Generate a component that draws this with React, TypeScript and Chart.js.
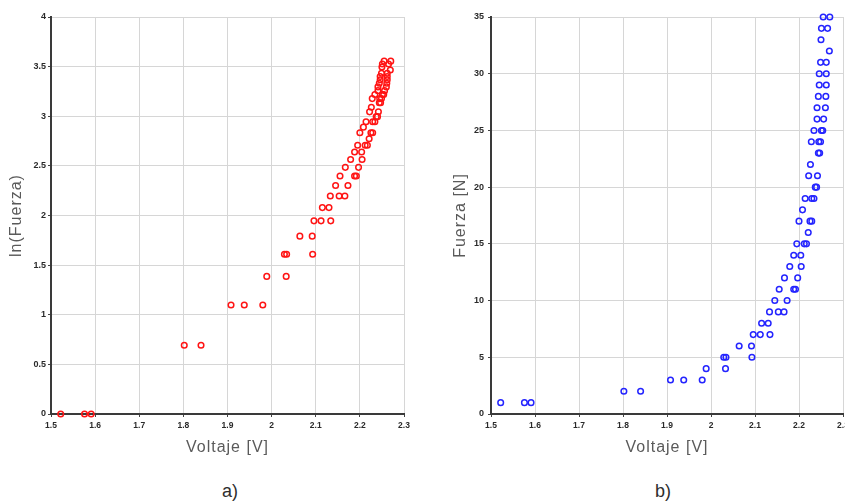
import { useEffect, useRef } from "react";
import { Chart, registerables } from "chart.js";

Chart.register(...registerables);

// Measured pairs: supply voltage [V] and resulting force [N]
const voltage = [
  1.522, 1.576, 1.591,
  1.802, 1.840,
  1.908, 1.938, 1.980,
  1.989, 2.033,
  2.029, 2.034, 2.093,
  2.064, 2.092,
  2.096, 2.112, 2.134,
  2.115, 2.130,
  2.133, 2.153, 2.166,
  2.145, 2.173,
  2.155, 2.188, 2.192,
  2.167, 2.197,
  2.179, 2.205,
  2.188, 2.204,
  2.195, 2.212, 2.217,
  2.221,
  2.200, 2.225, 2.229,
  2.208,
  2.214, 2.229, 2.234,
  2.237, 2.240,
  2.222, 2.242,
  2.226,
  2.244, 2.247,
  2.228, 2.245, 2.249,
  2.234, 2.251, 2.254,
  2.241, 2.256,
  2.241, 2.260,
  2.244, 2.261,
  2.246, 2.262,
  2.246, 2.262,
  2.249, 2.262,
  2.269,
  2.250,
  2.251, 2.265,
  2.255, 2.270,
];

const force = [
  1, 1, 1,
  2, 2,
  3, 3, 3,
  4, 4,
  5, 5, 5,
  6, 6,
  7, 7, 7,
  8, 8,
  9, 9, 9,
  10, 10,
  11, 11, 11,
  12, 12,
  13, 13,
  14, 14,
  15, 15, 15,
  16,
  17, 17, 17,
  18,
  19, 19, 19,
  20, 20,
  21, 21,
  22,
  23, 23,
  24, 24, 24,
  25, 25, 25,
  26, 26,
  27, 27,
  28, 28,
  29, 29,
  30, 30,
  31, 31,
  32,
  33,
  34, 34,
  35, 35,
];

// Natural log of each force reading, plotted in panel a)
const lnForce = force.map((f) => Math.log(f));

const voltageTicks = [1.5, 1.6, 1.7, 1.8, 1.9, 2.0, 2.1, 2.2, 2.3];
const voltageTickLabels = ["1.5", "1.6", "1.7", "1.8", "1.9", "2", "2.1", "2.2", "2.3"];
const lnForceTicks = [0, 0.5, 1, 1.5, 2, 2.5, 3, 3.5, 4];
const lnForceTickLabels = ["0", "0.5", "1", "1.5", "2", "2.5", "3", "3.5", "4"];
const forceTicks = [0, 5, 10, 15, 20, 25, 30, 35];
const forceTickLabels = ["0", "5", "10", "15", "20", "25", "30", "35"];

const FONT = "'Liberation Sans', Arial, sans-serif";

// Titles get a little extra tracking; tick labels (drawn after the datasets) do not.
const trackedTitles = {
  id: "trackedTitles",
  beforeDraw(chart: any) {
    chart.ctx.letterSpacing = "1px";
  },
  beforeDatasetsDraw(chart: any) {
    chart.ctx.letterSpacing = "0px";
  },
};

interface PanelSpec {
  ys: number[];
  yTicks: number[];
  yTickLabels: string[];
  yTitle: string;
  yMax: number;
  color: string;
  yAxisWidth: number;
  yTitlePad: number;
  yTickPad: number;
  padRight: number;
}

function makeChart(canvas: HTMLCanvasElement, spec: PanelSpec) {
  const points = voltage.map((v, i) => ({ x: v, y: spec.ys[i] }));
  const grid = {
    color: "#d6d6d6",
    lineWidth: 1,
    drawTicks: true,
    tickLength: 3,
    tickColor: "#444",
    tickWidth: 1,
  };
  const border = { display: true, color: "#3a3a3a", width: 2 };

  return new Chart(canvas, {
    type: "scatter",
    data: {
      datasets: [
        {
          data: points,
          pointStyle: "circle",
          pointRadius: 2.8,
          pointBorderWidth: 1.5,
          pointBorderColor: spec.color,
          pointBackgroundColor: "rgba(0,0,0,0)",
          pointHoverRadius: 2.8,
          clip: false as any,
        },
      ],
    },
    options: {
      animation: false,
      responsive: false,
      maintainAspectRatio: false,
      devicePixelRatio: 1,
      events: [],
      layout: { padding: { top: 17, right: spec.padRight, bottom: 0, left: 0 } },
      plugins: {
        legend: { display: false },
        tooltip: { enabled: false },
      },
      scales: {
        x: {
          type: "linear",
          min: 1.5,
          max: 2.3,
          grid,
          border,
          afterBuildTicks: (scale: any) => {
            scale.ticks = voltageTicks.map((v) => ({ value: v }));
          },
          afterFit: (scale: any) => {
            scale.height = 56;
          },
          ticks: {
            z: 1,
            autoSkip: false,
            maxRotation: 0,
            padding: 4,
            color: "#2a2a2a",
            font: { family: FONT, size: 8.5, weight: "bold" },
            callback: (_v: any, i: number) => voltageTickLabels[i],
          },
          title: {
            display: true,
            text: "Voltaje [V]",
            color: "#5a5a5a",
            font: { family: FONT, size: 16 },
            padding: { top: 0, bottom: 13 },
          },
        },
        y: {
          type: "linear",
          min: 0,
          max: spec.yMax,
          grid,
          border,
          afterBuildTicks: (scale: any) => {
            scale.ticks = spec.yTicks.map((v) => ({ value: v }));
          },
          afterFit: (scale: any) => {
            scale.width = spec.yAxisWidth;
          },
          ticks: {
            z: 1,
            autoSkip: false,
            padding: spec.yTickPad,
            color: "#2a2a2a",
            font: { family: FONT, size: 9, weight: "bold" },
            callback: (_v: any, i: number) => spec.yTickLabels[i],
          },
          title: {
            display: true,
            text: spec.yTitle,
            color: "#5a5a5a",
            font: { family: FONT, size: 16 },
            padding: { top: spec.yTitlePad, bottom: 0 },
          },
        },
      },
    },
    plugins: [trackedTitles],
  } as any);
}

function Panel(props: { spec: PanelSpec; left: number; width: number; caption: string; captionX: number }) {
  const ref = useRef<HTMLCanvasElement | null>(null);
  useEffect(() => {
    if (!ref.current) return;
    const chart = makeChart(ref.current, props.spec);
    return () => chart.destroy();
  }, []);
  return (
    <>
      <canvas
        ref={ref}
        width={props.width}
        height={470}
        style={{ position: "absolute", left: props.left, top: 0, width: props.width, height: 470 }}
      />
      <div
        style={{
          position: "absolute",
          left: props.captionX,
          top: 491,
          transform: "translate(-50%, -50%)",
          fontFamily: FONT,
          fontSize: 18,
          color: "#2e2e2e",
          lineHeight: 1,
        }}
      >
        {props.caption}
      </div>
    </>
  );
}

const panelA: PanelSpec = {
  ys: lnForce,
  yTicks: lnForceTicks,
  yTickLabels: lnForceTickLabels,
  yTitle: "ln(Fuerza)",
  yMax: 4,
  color: "#ff1414",
  yAxisWidth: 51,
  yTitlePad: 7,
  yTickPad: 2,
  padRight: 21,
};

const panelB: PanelSpec = {
  ys: force,
  yTicks: forceTicks,
  yTickLabels: forceTickLabels,
  yTitle: "Fuerza [N]",
  yMax: 35,
  color: "#2424ff",
  yAxisWidth: 66,
  yTitlePad: 26,
  yTickPad: 4,
  padRight: 12,
};

export default function App() {
  return (
    <div
      style={{
        position: "fixed",
        left: 0,
        top: 0,
        width: 845,
        height: 503,
        overflow: "hidden",
        background: "#ffffff",
      }}
    >
      <Panel spec={panelA} left={0} width={425} caption="a)" captionX={230} />
      <Panel spec={panelB} left={425} width={430} caption="b)" captionX={663} />
    </div>
  );
}
